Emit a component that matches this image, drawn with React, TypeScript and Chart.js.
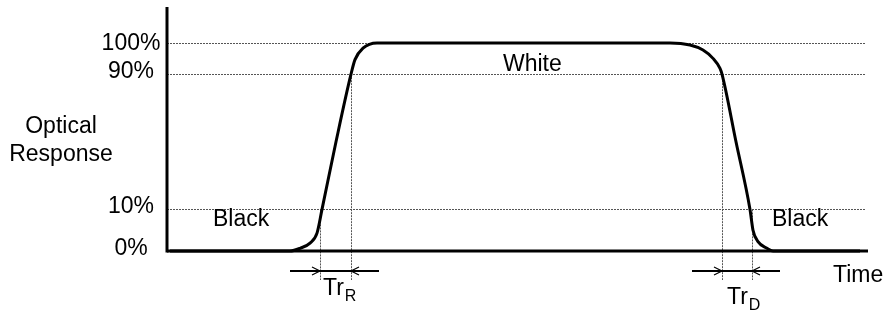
import React, { useEffect, useRef } from 'react';
import { Chart, registerables } from 'chart.js';

Chart.register(...registerables);

// Time (arbitrary units) and optical response (schematic level units)
const timeValues = [3, 123, 133, 143, 150, 155, 169, 184, 188, 196, 210, 213, 503, 523, 536, 546, 553, 555, 569, 583, 586, 591, 600, 606, 693];
const responseValues = [0, 0, 1.3, 3.8, 8.6, 20, 52.5, 85, 92, 97.5, 100, 100, 100, 99, 96.6, 92.6, 87.8, 85, 52.5, 20, 10, 4.5, 1.3, 0, 0];

// Reference levels (schematic positions) and their labels
const levelValues = [0, 20, 85, 100];
const levelLabels = ['0%', '10%', '90%', '100%'];

// Transition marks: rise 10%, rise 90%, decay 90%, decay 10%
const transitionTimes = [153, 184, 555, 585];
const transitionLevels = [20, 85, 85, 20];
const transitionSubs = ['R', 'D'];

const stateLabels = ['Black', 'White', 'Black'];
const stateTimes = [46, 336, 605];
const stateLevels = [6, 85, 6];

const yTitleLines = ['Optical', 'Response'];
const xTitle = 'Time';

const FONT = '"Liberation Sans", Arial, Helvetica, sans-serif';

const diagramPlugin = {
  id: 'diagram',
  beforeDatasetsDraw(chart: any) {
    const { ctx, chartArea: ca, scales } = chart;
    const x = scales.x;
    const y = scales.y;
    ctx.save();
    ctx.strokeStyle = '#555';
    ctx.lineWidth = 1;
    ctx.setLineDash([2, 1]);
    levelValues.forEach((v) => {
      if (v === 0) return;
      const py = Math.round(y.getPixelForValue(v)) + 0.5;
      ctx.beginPath();
      ctx.moveTo(ca.left, py);
      ctx.lineTo(ca.right - 2, py);
      ctx.stroke();
    });
    transitionTimes.forEach((t, i) => {
      const px = Math.round(x.getPixelForValue(t)) + 0.5;
      const top = y.getPixelForValue(transitionLevels[i]);
      ctx.beginPath();
      ctx.moveTo(px, top);
      ctx.lineTo(px, ca.bottom + 29);
      ctx.stroke();
    });
    ctx.restore();
  },
  afterDatasetsDraw(chart: any) {
    const { ctx, chartArea: ca, scales } = chart;
    const x = scales.x;
    const y = scales.y;
    ctx.save();
    ctx.setLineDash([]);
    ctx.strokeStyle = '#000';
    ctx.lineWidth = 3;
    ctx.beginPath();
    ctx.moveTo(ca.left, ca.top);
    ctx.lineTo(ca.left, ca.bottom + 1.5);
    ctx.stroke();
    ctx.beginPath();
    ctx.moveTo(ca.left, ca.bottom);
    ctx.lineTo(ca.right, ca.bottom);
    ctx.stroke();

    ctx.fillStyle = '#000';
    ctx.font = `23px ${FONT}`;
    ctx.textBaseline = 'alphabetic';

    // level labels
    ctx.textAlign = 'center';
    const dy = [4, 4, 4, 7];
    levelValues.forEach((v, i) => {
      ctx.fillText(levelLabels[i], ca.left - 36, y.getPixelForValue(v) + dy[i]);
    });

    // y title
    ctx.fillText(yTitleLines[0], 61, 133);
    ctx.fillText(yTitleLines[1], 61, 161);

    // state labels
    ctx.textAlign = 'left';
    stateLabels.forEach((s, i) => {
      ctx.fillText(s, x.getPixelForValue(stateTimes[i]), y.getPixelForValue(stateLevels[i]) - 13 + (i === 1 ? 10 : 0));
    });

    // x title
    ctx.fillText(xTitle, ca.right - 35, ca.bottom + 31);

    // transition time labels and arrows
    const arrowY = ca.bottom + 20;
    const baseOff = [44, 53];
    const txtOff = [3, 5];
    for (let k = 0; k < 2; k++) {
      const x1 = x.getPixelForValue(transitionTimes[k * 2]);
      const x2 = x.getPixelForValue(transitionTimes[k * 2 + 1]);
      const lo = Math.min(x1, x2);
      const hi = Math.max(x1, x2);
      ctx.strokeStyle = '#000';
      ctx.lineWidth = 2;
      ctx.beginPath();
      ctx.moveTo(lo - 30, arrowY);
      ctx.lineTo(hi + 28, arrowY);
      ctx.stroke();
      ctx.lineWidth = 1.2;
      ctx.beginPath();
      ctx.moveTo(lo - 8, arrowY - 4);
      ctx.lineTo(lo, arrowY);
      ctx.lineTo(lo - 8, arrowY + 4);
      ctx.moveTo(hi + 8, arrowY - 4);
      ctx.lineTo(hi, arrowY);
      ctx.lineTo(hi + 8, arrowY + 4);
      ctx.stroke();

      ctx.font = `23px ${FONT}`;
      const tx = lo + txtOff[k];
      const ty = ca.bottom + baseOff[k];
      ctx.fillText('Tr', tx, ty);
      const w = ctx.measureText('Tr').width;
      ctx.font = `16px ${FONT}`;
      ctx.fillText(transitionSubs[k], tx + w + 1, ty + 6);
    }
    ctx.restore();
  },
};

export default function App() {
  const canvasRef = useRef<HTMLCanvasElement | null>(null);

  useEffect(() => {
    if (!canvasRef.current) return;
    const data = timeValues.map((t, i) => ({ x: t, y: responseValues[i] }));
    const chart = new Chart(canvasRef.current, {
      type: 'line',
      data: {
        datasets: [
          {
            data,
            borderColor: '#000',
            borderWidth: 3,
            pointRadius: 0,
            fill: false,
            cubicInterpolationMode: 'monotone',
            clip: false as any,
          },
        ],
      },
      options: {
        animation: false,
        responsive: false,
        devicePixelRatio: 1,
        layout: { padding: { left: 167, right: 18, top: 7, bottom: 61 } },
        scales: {
          x: { type: 'linear', min: 0, max: 701, display: false },
          y: { type: 'linear', min: 0, max: 117.3, display: false },
        },
        plugins: {
          legend: { display: false },
          tooltip: { enabled: false },
        },
      },
      plugins: [diagramPlugin],
    });
    return () => chart.destroy();
  }, []);

  return (
    <div style={{ position: 'fixed', left: 0, top: 0, width: 886, height: 312, background: '#fff' }}>
      <canvas ref={canvasRef} width={886} height={312} />
    </div>
  );
}
